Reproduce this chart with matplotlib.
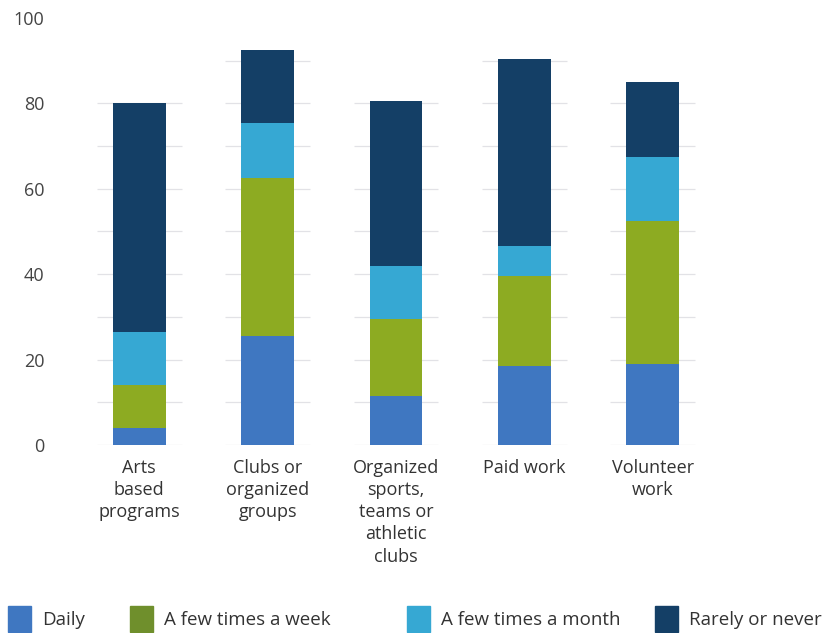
import numpy as np
import matplotlib
matplotlib.use("Agg")
import matplotlib.pyplot as plt

plt.rcParams["font.family"] = ["Open Sans", "DejaVu Sans"]

categories = [
    "Arts\nbased\nprograms",
    "Clubs or\norganized\ngroups",
    "Organized\nsports,\nteams or\nathletic\nclubs",
    "Paid work",
    "Volunteer\nwork",
]
series_names = ["Daily", "A few times a week", "A few times a month", "Rarely or never"]
daily = [4, 25.5, 11.5, 18.5, 19]
few_week = [10, 37, 18, 21, 33.5]
few_month = [12.5, 13, 12.5, 7, 15]
rarely = [53.5, 17, 38.5, 44, 17.5]

colors = ["#3f77c1", "#8dab22", "#36a8d3", "#143f66"]
legend_colors = ["#3f77c1", "#6f8f2c", "#36a8d3", "#143f66"]
legend_x = [8, 130, 407, 655]  # left edge of each legend entry, px

W, H = 827, 633
fig = plt.figure(figsize=(W / 100, H / 100), dpi=100)
ax = fig.add_axes([75 / W, 188 / H, 642 / W, 427 / H])

x = np.arange(len(categories))
width = 0.41
data = [daily, few_week, few_month, rarely]
totals = np.sum(data, axis=0)

# faint guide lines around each bar
for i, t in enumerate(totals):
    levels = np.arange(0, np.floor(t / 10) * 10 + 1, 10)
    ax.hlines(levels, i - 0.33, i + 0.33, color="#e2e2e6", linewidth=0.9, zorder=1)

bottom = np.zeros(len(categories))
for vals, c in zip(data, colors):
    ax.bar(x, vals, width=width, bottom=bottom, color=c, zorder=2)
    bottom += np.array(vals)

ax.set_xlim(-0.5, len(categories) - 0.5)
ax.set_ylim(0, 100)
ax.set_yticks(range(0, 101, 20))
ax.set_xticks(x)
ax.set_xticklabels(categories, fontsize=13, color="#333333", linespacing=1.3, va="top")
ax.tick_params(axis="both", length=0)
ax.tick_params(axis="x", pad=10)
ax.tick_params(axis="y", pad=22, labelsize=13, labelcolor="#444444")
for s in ax.spines.values():
    s.set_visible(False)

# one legend per entry so the uneven spacing of the original can be kept
for name, c, lx in zip(series_names, legend_colors, legend_x):
    h = plt.Rectangle((0, 0), 1, 1, color=c)
    fig.legend([h], [name], loc="center left", bbox_to_anchor=(lx / W, 1 - 619 / H),
               frameon=False, fontsize=13.5, handlelength=1.25, handleheight=1.8,
               handletextpad=0.55, borderpad=0, borderaxespad=0, labelcolor="#333333")

fig.savefig("out.png", dpi=100)
